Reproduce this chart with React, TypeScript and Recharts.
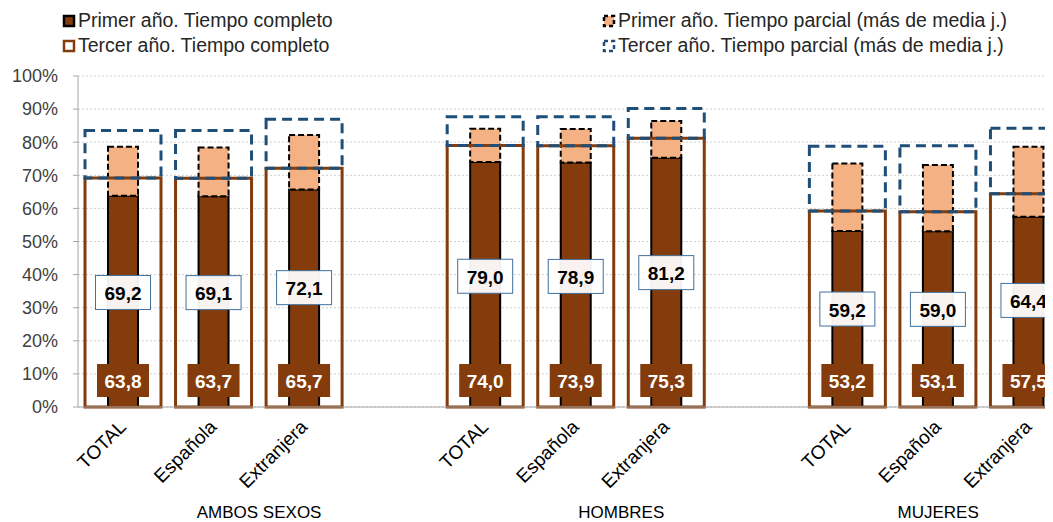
import React from 'react';
import { BarChart, Bar, XAxis, YAxis, CartesianGrid, Legend, LabelList } from 'recharts';

const groups = ['AMBOS SEXOS', 'HOMBRES', 'MUJERES'];
const origins = ['TOTAL', 'Española', 'Extranjera'];

// first year (narrow bars) and third year (wide outlined bars), % of students
const firstFull = [63.8, 63.7, 65.7, 74.0, 73.9, 75.3, 53.2, 53.1, 57.5];
const firstPart = [14.8, 14.7, 16.5, 10.1, 10.1, 11.1, 20.4, 20.0, 21.1];
const thirdFull = [69.2, 69.1, 72.1, 79.0, 78.9, 81.2, 59.2, 59.0, 64.4];
const thirdPart = [14.3, 14.4, 14.8, 8.7, 8.8, 9.0, 19.6, 19.9, 19.8];

const yTicks = [0, 10, 20, 30, 40, 50, 60, 70, 80, 90, 100];

const BROWN = '#843C0C';
const PEACH = '#F4B183';
const BLUE = '#1F4E79';

type Row = {
  key: string;
  name: string;
  group: string;
  span: number;
  firstFull: number | null;
  firstPart: number | null;
  thirdFull: number | null;
  thirdPart: number | null;
};

const rows: Row[] = [];
groups.forEach((g, gi) => {
  const last = gi === groups.length - 1;
  origins.forEach((o, oi) => {
    const i = gi * origins.length + oi;
    rows.push({
      key: `${g}-${o}`,
      name: o,
      group: oi === 0 ? g : '',
      span: origins.length + (last ? 0 : 1),
      firstFull: firstFull[i],
      firstPart: firstPart[i],
      thirdFull: thirdFull[i],
      thirdPart: thirdPart[i],
    });
  });
  if (!last) {
    rows.push({ key: `gap-${gi}`, name: '', group: '', span: 0, firstFull: null, firstPart: null, thirdFull: null, thirdPart: null });
  }
});

const fmt = (v: number) => v.toFixed(1).replace('.', ',');

const FirstLabel = (props: any) => {
  const { x, y, width, height, value } = props;
  if (value == null) return null;
  const cx = x + width / 2;
  const bottom = y + height - 10;
  return (
    <g>
      <rect x={cx - 26} y={bottom - 33} width={52} height={33} fill={BROWN} />
      <text x={cx} y={bottom - 16} textAnchor="middle" dominantBaseline="central" fill="#fff" fontWeight="bold" fontSize={19}>
        {fmt(value)}
      </text>
    </g>
  );
};

const ThirdLabel = (props: any) => {
  const { x, y, width, height, value } = props;
  if (value == null) return null;
  const cx = x + width / 2;
  const cy = y + height / 2;
  return (
    <g>
      <rect x={cx - 27.5} y={cy - 17} width={55} height={34} fill="#fff" fillOpacity={0.94} stroke="#41719C" strokeWidth={1} />
      <text x={cx} y={cy + 1} textAnchor="middle" dominantBaseline="central" fill="#000" fontWeight="bold" fontSize={19}>
        {fmt(value)}
      </text>
    </g>
  );
};

const CategoryTick = (props: any) => {
  const { x, y, payload } = props;
  const row = rows[payload.index];
  if (!row) return null;
  const half = payload.offset ?? 0;
  return (
    <g>
      {row.name && (
        <text
          x={x + 4}
          y={y + 13}
          transform={`rotate(-45, ${x + 4}, ${y + 13})`}
          textAnchor="end"
          fontSize={19}
          fill="#000"
        >
          {row.name}
        </text>
      )}
      {row.group && (
        <text x={x + (row.span - 1) * half} y={y + 103} textAnchor="middle" fontSize={17} fill="#000">
          {row.group}
        </text>
      )}
    </g>
  );
};

const legendItems = [
  { label: 'Primer año. Tiempo completo', fill: BROWN, stroke: '#000', dash: undefined },
  { label: 'Primer año. Tiempo parcial (más de media j.)', fill: PEACH, stroke: '#000', dash: '4 3' },
  { label: 'Tercer año. Tiempo completo', fill: '#fff', stroke: BROWN, dash: undefined },
  { label: 'Tercer año. Tiempo parcial (más de media j.)', fill: '#fff', stroke: BLUE, dash: '4 3' },
];

const renderLegend = () => (
  <div
    style={{
      height: 68,
      paddingLeft: 54,
      boxSizing: 'border-box',
      display: 'grid',
      gridTemplateColumns: '540px auto',
      gridAutoRows: '25px',
      color: '#262626',
      fontSize: 19.5,
    }}
  >
    {legendItems.map((it) => (
      <div key={it.label} style={{ display: 'flex', alignItems: 'center', whiteSpace: 'nowrap' }}>
        <svg width={14} height={14} style={{ marginRight: 2 }}>
          <rect x={2} y={2} width={10} height={10} fill={it.fill} stroke={it.stroke} strokeWidth={2.5} strokeDasharray={it.dash} />
        </svg>
        <span>{it.label}</span>
      </div>
    ))}
  </div>
);

export default function App() {
  return (
    <div style={{ width: 1045, height: 514, overflow: 'hidden', fontFamily: '"Liberation Sans", Arial, sans-serif' }}>
      <BarChart width={1066} height={514} data={rows} margin={{ top: 0, right: 0, left: 0, bottom: 0 }}>
        <Legend verticalAlign="top" align="left" content={renderLegend} />
        <CartesianGrid vertical={false} stroke="#cfcfcf" strokeDasharray="2 2" />
        <XAxis
          xAxisId="narrow"
          dataKey="key"
          interval={0}
          height={115}
          tickLine={false}
          axisLine={{ stroke: '#a6a6a6' }}
          tick={<CategoryTick />}
        />
        <XAxis xAxisId="wide" dataKey="key" hide />
        <YAxis
          width={70}
          domain={[0, 100]}
          ticks={yTicks}
          tickFormatter={(v) => `${v}%`}
          tick={{ fill: '#404040', fontSize: 18 }}
          tickSize={5}
          tickMargin={15}
          axisLine={{ stroke: '#a6a6a6' }}
          tickLine={{ stroke: '#a6a6a6' }}
        />
        <Bar xAxisId="narrow" dataKey="firstFull" stackId="first" barSize={30} fill={BROWN} stroke="#000" strokeWidth={2} isAnimationActive={false}>
          <LabelList dataKey="firstFull" content={<FirstLabel />} />
        </Bar>
        <Bar xAxisId="narrow" dataKey="firstPart" stackId="first" barSize={30} fill={PEACH} stroke="#000" strokeWidth={2} strokeDasharray="6 3" isAnimationActive={false} />
        <Bar xAxisId="wide" dataKey="thirdFull" stackId="third" barSize={76} fill="none" stroke={BROWN} strokeWidth={3} isAnimationActive={false}>
          <LabelList dataKey="thirdFull" content={<ThirdLabel />} />
        </Bar>
        <Bar xAxisId="wide" dataKey="thirdPart" stackId="third" barSize={76} fill="none" stroke={BLUE} strokeWidth={3} strokeDasharray="10 6" isAnimationActive={false} />
      </BarChart>
    </div>
  );
}
